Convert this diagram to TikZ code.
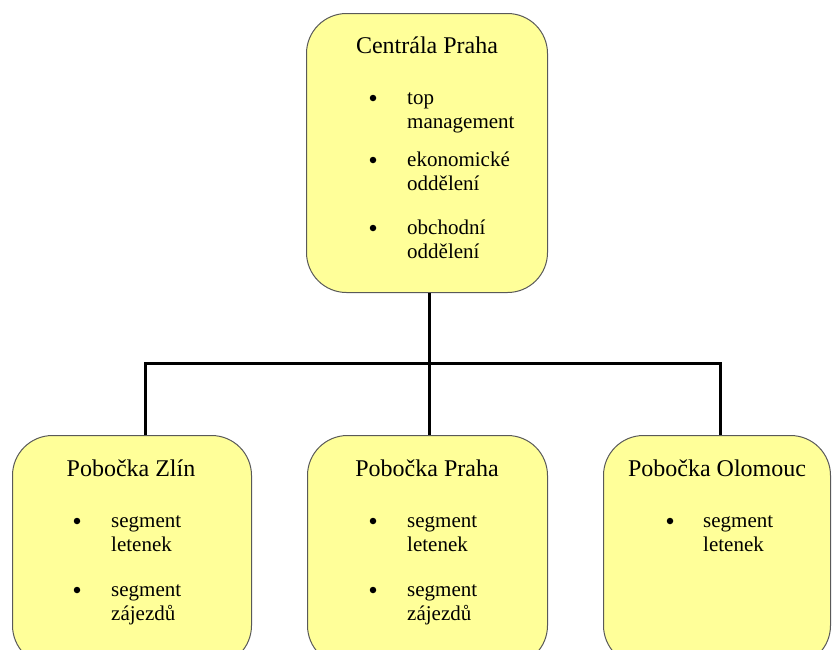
\documentclass[tikz,border=0pt]{standalone}
\usepackage{fontspec}
\setmainfont{Liberation Serif}
\begin{document}
\begin{tikzpicture}[x=1pt,y=-1pt,
  box/.style={draw=black!65, line width=1pt, fill=boxyellow, rounded corners=40pt, inner sep=0pt, anchor=north west},
  conn/.style={draw=black, line width=3pt},
  title/.style={font=\fontsize{24}{28}\selectfont, anchor=base, inner sep=0pt},
  item/.style={font=\fontsize{21}{24}\selectfont, anchor=base west, align=left, inner sep=0pt},
  dot/.style={circle, fill=black, inner sep=0pt, minimum size=6.5pt}
]
\definecolor{boxyellow}{HTML}{FFFF99}
\useasboundingbox (0,0) rectangle (832,649);
\clip (0,0) rectangle (832,649);
% boxes
\node[box, minimum width=241pt, minimum height=279pt] (top) at (306,13) {};
\node[box, minimum width=239pt, minimum height=230pt] (zlin) at (12,435) {};
\node[box, minimum width=240pt, minimum height=230pt] (praha) at (307,435) {};
\node[box, minimum width=227pt, minimum height=230pt] (olomouc) at (603,435) {};
% connectors
\coordinate (mid) at ([xshift=2.5pt]top.south |- 0,363);
\draw[conn] ([xshift=2.5pt]top.south) -- (mid);
\draw[conn] ([xshift=13.5pt]zlin.north) |- (mid) -| ([xshift=3.5pt]olomouc.north);
\draw[conn] (mid) -- ([xshift=2pt]praha.north);
% top box texts
\node[title] (t0) at (427,53) {Centrála Praha};
\node[dot] (b1) at (373,98) {};
\node[item] (i1) at (407,128) {top\\management};
\node[dot] (b2) at (373,160) {};
\node[item] (i2) at (407,190) {ekonomické\\oddělení};
\node[dot] (b3) at (373,228) {};
\node[item] (i3) at (407,258) {obchodní\\oddělení};
% Zlin
\node[title] (t1) at (131,476) {Pobočka Zlín};
\node[dot] (z1) at (77,521) {};
\node[item] (zi1) at (111,551) {segment\\letenek};
\node[dot] (z2) at (77,590) {};
\node[item] (zi2) at (111,620) {segment\\zájezdů};
% Praha
\node[title] (t2) at (427,476) {Pobočka Praha};
\node[dot] (p1) at (373,521) {};
\node[item] (pi1) at (407,551) {segment\\letenek};
\node[dot] (p2) at (373,590) {};
\node[item] (pi2) at (407,620) {segment\\zájezdů};
% Olomouc
\node[title] (t3) at (717,476) {Pobočka Olomouc};
\node[dot] (o1) at (670,521) {};
\node[item] (oi1) at (703,551) {segment\\letenek};
\end{tikzpicture}
\end{document}
